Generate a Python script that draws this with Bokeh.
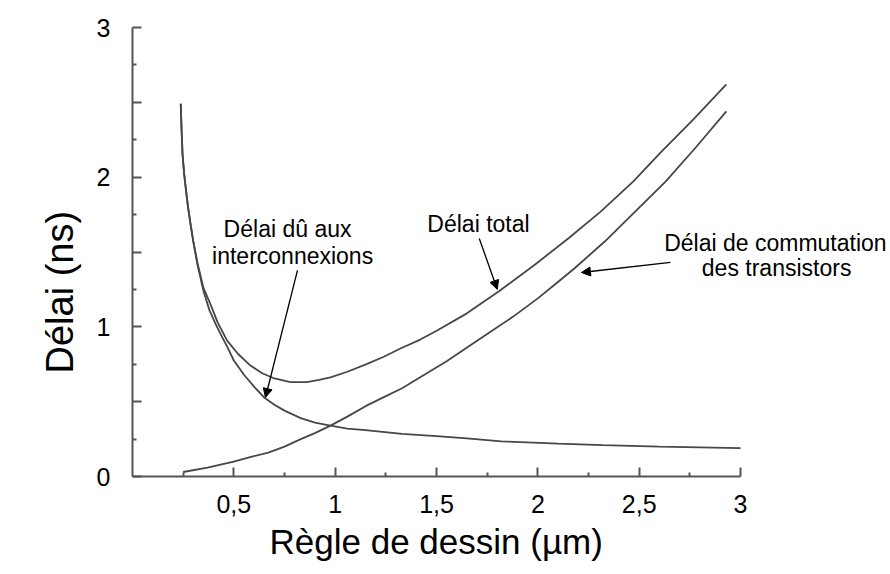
import math
from bokeh.plotting import figure
from bokeh.models import Range1d, FixedTicker, Label, Arrow, NormalHead, Title
from bokeh.embed import file_html
from bokeh.resources import INLINE

# ---- data ----
x_inter = [0.238, 0.242, 0.247, 0.255, 0.265, 0.275, 0.286, 0.30, 0.32, 0.35, 0.38, 0.41, 0.434,
           0.47, 0.50, 0.55, 0.60, 0.648, 0.70, 0.75, 0.83, 0.90, 0.977, 1.06, 1.15, 1.33, 1.50,
           1.65, 1.82, 2.10, 2.32, 2.60, 3.00]
y_inter = [2.49, 2.32, 2.15, 2.02, 1.90, 1.79, 1.69, 1.57, 1.42, 1.24, 1.11, 1.02, 0.953,
           0.86, 0.775, 0.68, 0.60, 0.53, 0.48, 0.44, 0.39, 0.36, 0.34, 0.32, 0.31, 0.285, 0.27,
           0.255, 0.235, 0.22, 0.21, 0.20, 0.19]

x_total = [0.238, 0.242, 0.247, 0.255, 0.265, 0.275, 0.286, 0.30, 0.32, 0.35, 0.385, 0.42, 0.467,
           0.52, 0.582, 0.64, 0.70, 0.78, 0.86, 0.92, 0.977, 1.06, 1.158, 1.24, 1.322, 1.42, 1.503,
           1.65, 1.81, 1.98, 2.15, 2.31, 2.47, 2.61, 2.77, 2.93]
y_total = [2.49, 2.32, 2.15, 2.02, 1.90, 1.79, 1.69, 1.57, 1.43, 1.26, 1.15, 1.03, 0.908,
           0.82, 0.741, 0.69, 0.655, 0.63, 0.63, 0.645, 0.663, 0.70, 0.753, 0.80, 0.855, 0.915, 0.975,
           1.09, 1.24, 1.41, 1.59, 1.77, 1.97, 2.17, 2.39, 2.62]

x_trans = [0.25, 0.37, 0.50, 0.58, 0.67, 0.75, 0.83, 0.90, 0.977, 1.06, 1.15, 1.24, 1.33, 1.44,
           1.55, 1.66, 1.77, 1.88, 2.00, 2.09, 2.18, 2.33, 2.48, 2.63, 2.78, 2.93]
y_trans = [0.03, 0.06, 0.10, 0.13, 0.16, 0.20, 0.25, 0.29, 0.34, 0.40, 0.47, 0.53, 0.59, 0.68,
           0.77, 0.87, 0.97, 1.07, 1.19, 1.29, 1.39, 1.57, 1.77, 1.97, 2.20, 2.44]

x_major = [0.5, 1.0, 1.5, 2.0, 2.5, 3.0]
x_minor = [0.25, 0.75, 1.25, 1.75, 2.25, 2.75]
x_labels = ["0,5", "1", "1,5", "2", "2,5", "3"]
y_major = [0, 0.5, 1, 1.5, 2, 2.5, 3]
y_minor = [0.25, 0.75, 1.25, 1.75, 2.25, 2.75]
y_labels = ["0", "", "1", "", "2", "", "3"]

FONT = "Liberation Sans"
AXIS_COL = "#555555"
CURVE_COL = "#474747"

p = figure(frame_width=758, frame_height=449, output_backend="svg", toolbar_location=None,
           x_range=Range1d(0, 3.74), y_range=Range1d(0, 3))
p.min_border_left = 132
p.min_border_right = 0
p.min_border_top = 27
p.min_border_bottom = 98
p.outline_line_color = None
p.grid.visible = False
p.background_fill_color = "white"
p.border_fill_color = "white"

for ax in (p.xaxis[0], p.yaxis[0]):
    ax.axis_line_color = AXIS_COL
    ax.axis_line_width = 2
    ax.major_tick_line_color = AXIS_COL
    ax.minor_tick_line_color = AXIS_COL
    ax.major_tick_line_width = 2
    ax.minor_tick_line_width = 2
    ax.major_tick_in = 9
    ax.major_tick_out = 0
    ax.minor_tick_in = 4
    ax.minor_tick_out = 0
    ax.major_label_text_font = FONT
    ax.major_label_text_font_size = "25px"
    ax.major_label_text_color = "black"
    ax.bounds = (0, 3)

p.xaxis.ticker = FixedTicker(ticks=x_major, minor_ticks=x_minor)
p.xaxis.major_label_overrides = {t: l for t, l in zip(x_major, x_labels)}
p.xaxis.major_label_standoff = 18

p.yaxis.ticker = FixedTicker(ticks=y_major, minor_ticks=y_minor)
p.yaxis.major_label_overrides = {t: l for t, l in zip(y_major, y_labels)}
p.yaxis.major_label_standoff = 22

# x-axis title (below panel, left-aligned with an offset so it sits under 0..3)
p.add_layout(Title(text="Règle de dessin (µm)", align="left", offset=137, standoff=8,
                   text_font=FONT, text_font_size="35px", text_font_style="normal",
                   text_color="black"), "below")

# y-axis title (left panel)
p.add_layout(Title(text="Délai (ns)", align="left", offset=103, standoff=22,
                   vertical_align="top",
                   text_font=FONT, text_font_size="38px", text_font_style="normal",
                   text_color="black"), "left")

# curves
p.line(x_inter, y_inter, line_color=CURVE_COL, line_width=1.8)
p.line(x_total, y_total, line_color=CURVE_COL, line_width=1.8)
p.line(x_trans, y_trans, line_color=CURVE_COL, line_width=1.8)

def txt(x, y, s):
    p.add_layout(Label(x=x, y=y, text=s, text_align="center", text_baseline="middle",
                       text_font=FONT, text_font_size="23px", text_color="black"))

txt(0.765, 1.657, "Délai dû aux")
txt(0.79, 1.476, "interconnexions")
txt(1.707, 1.69, "Délai total")
txt(3.172, 1.563, "Délai de commutation")
txt(3.178, 1.396, "des transistors")

def arrow(x0, y0, x1, y1):
    p.add_layout(Arrow(x_start=x0, y_start=y0, x_end=x1, y_end=y1, line_width=1.3,
                       line_color="black",
                       end=NormalHead(size=9, fill_color="black", line_color="black")))

arrow(0.814, 1.377, 0.656, 0.528)
arrow(1.711, 1.59, 1.80, 1.25)
arrow(2.654, 1.43, 2.215, 1.363)

open("out.html", "w").write(file_html(p, INLINE))
